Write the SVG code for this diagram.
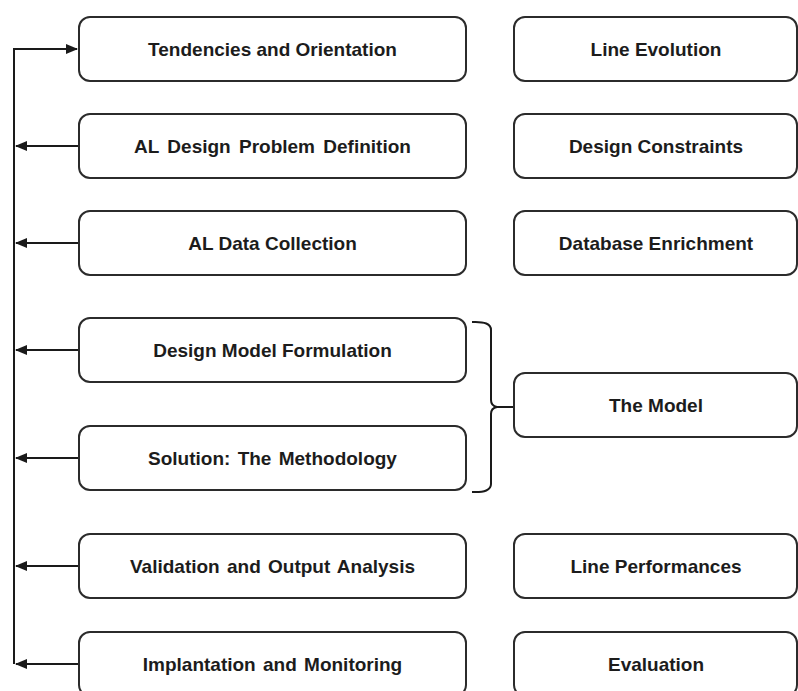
<svg xmlns="http://www.w3.org/2000/svg" width="798" height="691" viewBox="0 0 798 691">
<style>
.box{fill:#fff;stroke:#2b2b2b;stroke-width:2}
.t{font-family:"Liberation Sans",Arial,sans-serif;font-weight:bold;font-size:19px;fill:#1c1c1c;text-anchor:middle}
.c{fill:none;stroke:#1a1a1a;stroke-width:2}
</style>
<defs>
<marker id="ah" markerWidth="12" markerHeight="10" refX="11" refY="5" orient="auto" markerUnits="userSpaceOnUse">
<path d="M0,0 L12,5 L0,10 Z" fill="#1a1a1a"/>
</marker>
</defs>
<rect width="798" height="691" fill="#fff"/>
<g id="connectors">
<path class="c" d="M14,664 L14,49 L77,49" marker-end="url(#ah)"/>
<path class="c" d="M79,146 L16,146" marker-end="url(#ah)"/>
<path class="c" d="M79,243 L16,243" marker-end="url(#ah)"/>
<path class="c" d="M79,350 L16,350" marker-end="url(#ah)"/>
<path class="c" d="M79,458 L16,458" marker-end="url(#ah)"/>
<path class="c" d="M79,566 L16,566" marker-end="url(#ah)"/>
<path class="c" d="M79,664 L16,664" marker-end="url(#ah)"/>
<path class="c" d="M472,322 Q491,321 491,330 L491,400 Q491,406 497,407 L514,407 M497,407 Q491,408 491,414 L491,484 Q491,493 472,492" stroke-width="1.8"/>
</g>
<g id="n1"><rect class="box" x="79" y="17" width="387" height="64" rx="11"/><text class="t" x="272.5" y="56">Tendencies and Orientation</text></g>
<g id="n2"><rect class="box" x="79" y="114" width="387" height="64" rx="11"/><text class="t" x="272.5" y="153" word-spacing="3">AL Design Problem Definition</text></g>
<g id="n3"><rect class="box" x="79" y="211" width="387" height="64" rx="11"/><text class="t" x="272.5" y="250">AL Data Collection</text></g>
<g id="n4"><rect class="box" x="79" y="318" width="387" height="64" rx="11"/><text class="t" x="272.5" y="357">Design Model Formulation</text></g>
<g id="n5"><rect class="box" x="79" y="426" width="387" height="64" rx="11"/><text class="t" x="272.5" y="465" word-spacing="2">Solution: The Methodology</text></g>
<g id="n6"><rect class="box" x="79" y="534" width="387" height="64" rx="11"/><text class="t" x="272.5" y="573" word-spacing="2">Validation and Output Analysis</text></g>
<g id="n7"><rect class="box" x="79" y="632" width="387" height="64" rx="11"/><text class="t" x="272.5" y="671" word-spacing="2">Implantation and Monitoring</text></g>
<g id="r1"><rect class="box" x="514" y="17" width="283" height="64" rx="11"/><text class="t" x="656" y="56">Line Evolution</text></g>
<g id="r2"><rect class="box" x="514" y="114" width="283" height="64" rx="11"/><text class="t" x="656" y="153">Design Constraints</text></g>
<g id="r3"><rect class="box" x="514" y="211" width="283" height="64" rx="11"/><text class="t" x="656" y="250">Database Enrichment</text></g>
<g id="r4"><rect class="box" x="514" y="373" width="283" height="64" rx="11"/><text class="t" x="656" y="412">The Model</text></g>
<g id="r5"><rect class="box" x="514" y="534" width="283" height="64" rx="11"/><text class="t" x="656" y="573">Line Performances</text></g>
<g id="r6"><rect class="box" x="514" y="632" width="283" height="64" rx="11"/><text class="t" x="656" y="671">Evaluation</text></g>
</svg>
